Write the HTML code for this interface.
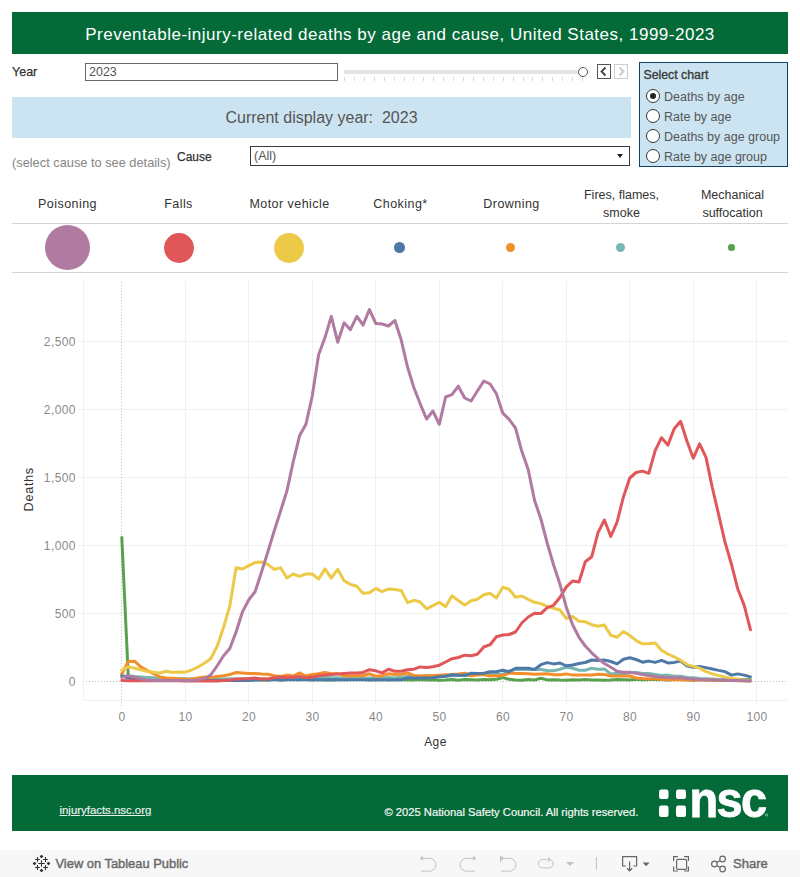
<!DOCTYPE html>
<html><head><meta charset="utf-8">
<style>
*{box-sizing:border-box;margin:0;padding:0}
html,body{width:800px;height:877px;overflow:hidden;background:#fff;font-family:"Liberation Sans",sans-serif;color:#333}
.a{position:absolute}
.chart{position:absolute;left:0;top:0}
.title{left:12px;top:12px;width:776px;height:42px;background:#046a38;color:#fff;font-size:17px;letter-spacing:0.5px;line-height:45px;text-align:center;white-space:nowrap}
.lbl{font-size:12px;color:#333;white-space:nowrap}
.inp{border:1px solid #666;background:#fff;font-size:12.5px;color:#555;padding-left:3px;white-space:nowrap}
.banner{left:12px;top:97px;width:619px;height:40.5px;background:#cce4f1;color:#555;font-size:16px;line-height:41px;text-align:center;white-space:nowrap}
.sel{left:639px;top:62px;width:149px;height:104.5px;background:#cce4f1;border:1.3px solid #0f4369}
.radio{width:14px;height:14px;border:1.2px solid #333;border-radius:50%;background:#fff}
.rl{font-size:12.5px;color:#555;white-space:nowrap}
.lg{font-size:12.5px;color:#333;text-align:center;white-space:nowrap;line-height:18px}
.dot{border-radius:50%}
.hr{left:12px;width:776px;height:1.5px;background:#d4d4d4}
.footer{left:12px;top:775px;width:776px;height:56px;background:#046a38}
.tb{left:0;top:850px;width:800px;height:27px;background:#f7f7f7}
</style></head><body>
<div class="a title">Preventable-injury-related deaths by age and cause, United States, 1999-2023</div>

<div class="a lbl" style="left:12px;top:65px;font-size:12.5px;-webkit-text-stroke:0.25px #333">Year</div>
<div class="a inp" style="left:85px;top:63px;width:253px;height:18px;line-height:16px">2023</div>
<div class="a" style="left:344px;top:70px;width:239px;height:4px;background:#e4e4e4"></div>
<div class="a" style="left:344.0px;top:77px;width:1px;height:4px;background:#d8d8d8"></div><div class="a" style="left:353.9px;top:77px;width:1px;height:4px;background:#d8d8d8"></div><div class="a" style="left:363.8px;top:77px;width:1px;height:4px;background:#d8d8d8"></div><div class="a" style="left:373.8px;top:77px;width:1px;height:4px;background:#d8d8d8"></div><div class="a" style="left:383.7px;top:77px;width:1px;height:4px;background:#d8d8d8"></div><div class="a" style="left:393.6px;top:77px;width:1px;height:4px;background:#d8d8d8"></div><div class="a" style="left:403.5px;top:77px;width:1px;height:4px;background:#d8d8d8"></div><div class="a" style="left:413.4px;top:77px;width:1px;height:4px;background:#d8d8d8"></div><div class="a" style="left:423.3px;top:77px;width:1px;height:4px;background:#d8d8d8"></div><div class="a" style="left:433.3px;top:77px;width:1px;height:4px;background:#d8d8d8"></div><div class="a" style="left:443.2px;top:77px;width:1px;height:4px;background:#d8d8d8"></div><div class="a" style="left:453.1px;top:77px;width:1px;height:4px;background:#d8d8d8"></div><div class="a" style="left:463.0px;top:77px;width:1px;height:4px;background:#d8d8d8"></div><div class="a" style="left:472.9px;top:77px;width:1px;height:4px;background:#d8d8d8"></div><div class="a" style="left:482.8px;top:77px;width:1px;height:4px;background:#d8d8d8"></div><div class="a" style="left:492.8px;top:77px;width:1px;height:4px;background:#d8d8d8"></div><div class="a" style="left:502.7px;top:77px;width:1px;height:4px;background:#d8d8d8"></div><div class="a" style="left:512.6px;top:77px;width:1px;height:4px;background:#d8d8d8"></div><div class="a" style="left:522.5px;top:77px;width:1px;height:4px;background:#d8d8d8"></div><div class="a" style="left:532.4px;top:77px;width:1px;height:4px;background:#d8d8d8"></div><div class="a" style="left:542.3px;top:77px;width:1px;height:4px;background:#d8d8d8"></div><div class="a" style="left:552.3px;top:77px;width:1px;height:4px;background:#d8d8d8"></div><div class="a" style="left:562.2px;top:77px;width:1px;height:4px;background:#d8d8d8"></div><div class="a" style="left:572.1px;top:77px;width:1px;height:4px;background:#d8d8d8"></div><div class="a" style="left:582.0px;top:77px;width:1px;height:4px;background:#d8d8d8"></div>
<div class="a" style="left:577.5px;top:66.5px;width:10px;height:10px;border:1.3px solid #555;border-radius:50%;background:#fff"></div>
<div class="a" style="left:597px;top:64px;width:14px;height:15px;border:1.2px solid #555;background:#fff"></div>
<svg class="a" style="left:597px;top:64px" width="14" height="15"><path d="M8.5,3.5 L4.5,7.5 L8.5,11.5" fill="none" stroke="#444" stroke-width="1.8"/></svg>
<div class="a" style="left:614px;top:64px;width:14px;height:15px;border:1.2px solid #ccc;background:#fff"></div>
<svg class="a" style="left:614px;top:64px" width="14" height="15"><path d="M5.5,3.5 L9.5,7.5 L5.5,11.5" fill="none" stroke="#c8c8c8" stroke-width="1.8"/></svg>

<div class="a banner">Current display year:&nbsp; 2023</div>

<div class="a" style="left:12px;top:154.5px;font-size:12.8px;color:#858585;white-space:nowrap">(select cause to see details)</div>
<div class="a lbl" style="left:177px;top:149.5px;-webkit-text-stroke:0.25px #333">Cause</div>
<div class="a inp" style="left:250px;top:146px;width:380px;height:19.5px;line-height:18px;border-color:#3a3a3a">(All)</div>
<svg class="a" style="left:615px;top:152px" width="10" height="8"><path d="M2,2 L8,2 L5,6 Z" fill="#222"/></svg>

<div class="a sel"></div>
<div class="a lbl" style="left:643.5px;top:68px;font-size:12.3px;-webkit-text-stroke:0.35px #3a3a3a;color:#3a3a3a">Select chart</div>
<div class="a radio" style="left:645.7px;top:89.0px"></div>
<div class="a" style="left:649.5px;top:92.8px;width:6.4px;height:6.4px;border-radius:50%;background:#222"></div>
<div class="a rl" style="left:664px;top:89.5px">Deaths by age</div>
<div class="a radio" style="left:645.7px;top:109.0px"></div>
<div class="a rl" style="left:664px;top:109.5px">Rate by age</div>
<div class="a radio" style="left:645.7px;top:129.0px"></div>
<div class="a rl" style="left:664px;top:129.5px">Deaths by age group</div>
<div class="a radio" style="left:645.7px;top:149.0px"></div>
<div class="a rl" style="left:664px;top:149.5px">Rate by age group</div>

<!-- legend -->
<div class="a lg" style="left:12px;top:195px;width:111px;letter-spacing:0.45px">Poisoning</div>
<div class="a lg" style="left:123px;top:195px;width:111px;letter-spacing:0.45px">Falls</div>
<div class="a lg" style="left:234px;top:195px;width:111px;letter-spacing:0.45px">Motor vehicle</div>
<div class="a lg" style="left:345px;top:195px;width:111px;letter-spacing:0.45px">Choking*</div>
<div class="a lg" style="left:456px;top:195px;width:111px;letter-spacing:0.45px">Drowning</div>
<div class="a lg" style="left:566px;top:186px;width:111px">Fires, flames,<br>smoke</div>
<div class="a lg" style="left:677px;top:186px;width:111px">Mechanical<br>suffocation</div>
<div class="a hr" style="top:222.5px"></div>
<div class="a hr" style="top:271.5px"></div>
<div class="a dot" style="left:45px;top:225px;width:45px;height:45px;background:#b07aa1"></div>
<div class="a dot" style="left:163.5px;top:232.5px;width:30px;height:30px;background:#e15759"></div>
<div class="a dot" style="left:273.5px;top:232.5px;width:30px;height:30px;background:#edc948"></div>
<div class="a dot" style="left:394px;top:242px;width:10.5px;height:10.5px;background:#4e79a7"></div>
<div class="a dot" style="left:506px;top:243px;width:9px;height:9px;background:#f28e2b"></div>
<div class="a dot" style="left:616px;top:243px;width:9px;height:9px;background:#76b7b2"></div>
<div class="a dot" style="left:728px;top:244.3px;width:6.5px;height:6.5px;background:#59a14f"></div>

<svg class="chart" width="800" height="877" viewBox="0 0 800 877">
<g>
<line x1="83.5" y1="281" x2="83.5" y2="700.5" stroke="#f0f0f0"/>
<line x1="83" y1="700.5" x2="788" y2="700.5" stroke="#f0f0f0"/>
<line x1="185.5" y1="281" x2="185.5" y2="705" stroke="#f0f0f0" stroke-width="1"/><line x1="248.5" y1="281" x2="248.5" y2="705" stroke="#f0f0f0" stroke-width="1"/><line x1="312.5" y1="281" x2="312.5" y2="705" stroke="#f0f0f0" stroke-width="1"/><line x1="375.5" y1="281" x2="375.5" y2="705" stroke="#f0f0f0" stroke-width="1"/><line x1="439.5" y1="281" x2="439.5" y2="705" stroke="#f0f0f0" stroke-width="1"/><line x1="502.5" y1="281" x2="502.5" y2="705" stroke="#f0f0f0" stroke-width="1"/><line x1="566.5" y1="281" x2="566.5" y2="705" stroke="#f0f0f0" stroke-width="1"/><line x1="629.5" y1="281" x2="629.5" y2="705" stroke="#f0f0f0" stroke-width="1"/><line x1="693.5" y1="281" x2="693.5" y2="705" stroke="#f0f0f0" stroke-width="1"/><line x1="756.5" y1="281" x2="756.5" y2="705" stroke="#f0f0f0" stroke-width="1"/>
<line x1="78" y1="341.5" x2="788" y2="341.5" stroke="#f0f0f0" stroke-width="1"/><line x1="78" y1="409.5" x2="788" y2="409.5" stroke="#f0f0f0" stroke-width="1"/><line x1="78" y1="477.5" x2="788" y2="477.5" stroke="#f0f0f0" stroke-width="1"/><line x1="78" y1="545.5" x2="788" y2="545.5" stroke="#f0f0f0" stroke-width="1"/><line x1="78" y1="613.5" x2="788" y2="613.5" stroke="#f0f0f0" stroke-width="1"/>
</g>
<line x1="121.5" y1="282" x2="121.5" y2="706" stroke="#bdbdbd" stroke-dasharray="1,2"/>
<line x1="86" y1="681.5" x2="786" y2="681.5" stroke="#bdbdbd" stroke-dasharray="1,2"/>
<g font-family="Liberation Sans, sans-serif" font-size="12" fill="#8a8a8a" letter-spacing="0.4"><text x="75.9" y="346.0" text-anchor="end">2,500</text><text x="75.9" y="414.0" text-anchor="end">2,000</text><text x="75.9" y="482.0" text-anchor="end">1,500</text><text x="75.9" y="550.0" text-anchor="end">1,000</text><text x="75.9" y="618.0" text-anchor="end">500</text><text x="75.9" y="686" text-anchor="end">0</text><text x="122.0" y="721" text-anchor="middle">0</text><text x="185.5" y="721" text-anchor="middle">10</text><text x="249.0" y="721" text-anchor="middle">20</text><text x="312.5" y="721" text-anchor="middle">30</text><text x="376.0" y="721" text-anchor="middle">40</text><text x="439.5" y="721" text-anchor="middle">50</text><text x="503.0" y="721" text-anchor="middle">60</text><text x="566.5" y="721" text-anchor="middle">70</text><text x="630.0" y="721" text-anchor="middle">80</text><text x="693.5" y="721" text-anchor="middle">90</text><text x="757.0" y="721" text-anchor="middle">100</text></g>
<text x="435.5" y="745.8" text-anchor="middle" font-family="Liberation Sans, sans-serif" font-size="12" letter-spacing="0.4" fill="#333">Age</text>
<text transform="translate(33.2,489.3) rotate(-90)" text-anchor="middle" font-family="Liberation Sans, sans-serif" font-size="12.8" letter-spacing="0.6" fill="#333">Deaths</text>
<polyline points="121.8,537.6 128.2,674.8 134.5,680.0 140.8,679.6 147.2,679.5 153.6,680.0 159.9,679.4 166.2,679.8 172.6,679.7 178.9,679.4 185.3,679.8 191.6,679.3 198.0,679.7 204.3,679.4 210.7,679.4 217.1,679.7 223.4,680.1 229.8,679.4 236.1,679.5 242.4,679.9 248.8,680.2 255.1,679.9 261.5,679.7 267.8,680.3 274.2,679.3 280.6,680.2 286.9,679.6 293.2,679.4 299.6,679.4 305.9,679.6 312.3,680.1 318.6,679.5 325.0,679.9 331.3,679.9 337.7,679.7 344.1,679.8 350.4,679.4 356.8,679.4 363.1,679.5 369.4,680.0 375.8,679.7 382.1,679.6 388.5,679.9 394.9,679.8 401.2,679.6 407.6,680.1 413.9,680.0 420.2,679.5 426.6,679.9 432.9,679.8 439.3,680.2 445.6,680.0 452.0,679.6 458.3,680.3 464.7,679.4 471.1,679.7 477.4,680.1 483.8,679.5 490.1,679.8 496.4,679.3 502.8,677.6 509.1,679.3 515.5,679.9 521.8,680.2 528.2,679.6 534.5,680.0 540.9,678.2 547.2,679.9 553.6,679.8 559.9,680.1 566.3,680.2 572.6,679.8 579.0,680.0 585.3,679.4 591.7,680.0 598.0,679.9 604.4,680.3 610.8,680.1 617.1,679.6 623.4,679.7 629.8,680.0 636.1,679.3 642.5,679.8 648.8,679.5 655.2,679.4 661.5,679.4 667.9,680.1 674.2,679.4 680.6,679.5 686.9,679.7 693.3,680.2 699.6,679.4 706.0,679.7 712.3,679.8 718.7,680.2 725.0,680.1 731.4,680.2 737.7,679.6 744.1,679.7 750.4,679.7" fill="none" stroke="#59a14f" stroke-width="3" stroke-linejoin="round" stroke-linecap="round"/>
<polyline points="121.8,676.0 128.2,675.9 134.5,676.6 140.8,677.0 147.2,677.4 153.6,677.8 159.9,678.5 166.2,678.8 172.6,679.3 178.9,678.8 185.3,678.8 191.6,678.9 198.0,678.9 204.3,679.0 210.7,678.8 217.1,678.7 223.4,678.9 229.8,678.8 236.1,679.1 242.4,678.7 248.8,679.6 255.1,679.3 261.5,678.8 267.8,679.0 274.2,679.0 280.6,679.1 286.9,678.8 293.2,679.5 299.6,679.7 305.9,679.2 312.3,678.0 318.6,677.6 325.0,677.6 331.3,677.8 337.7,677.8 344.1,678.3 350.4,677.7 356.8,677.5 363.1,678.5 369.4,678.0 375.8,677.6 382.1,678.0 388.5,677.5 394.9,678.0 401.2,677.1 407.6,676.6 413.9,676.3 420.2,676.2 426.6,676.0 432.9,675.9 439.3,676.0 445.6,676.0 452.0,675.8 458.3,675.4 464.7,675.4 471.1,675.3 477.4,674.0 483.8,674.3 490.1,674.4 496.4,674.4 502.8,674.4 509.1,671.0 515.5,669.5 521.8,669.5 528.2,669.5 534.5,669.5 540.9,669.5 547.2,670.5 553.6,670.8 559.9,669.3 566.3,667.3 572.6,668.3 579.0,670.3 585.3,670.3 591.7,668.3 598.0,669.3 604.4,668.9 610.8,674.0 617.1,673.2 623.4,674.0 629.8,672.5 636.1,672.5 642.5,673.5 648.8,673.5 655.2,674.5 661.5,675.5 667.9,675.1 674.2,676.3 680.6,676.3 686.9,677.4 693.3,677.8 699.6,678.5 706.0,678.8 712.3,679.1 718.7,679.4 725.0,679.7 731.4,680.0 737.7,680.3 744.1,680.6 750.4,680.9" fill="none" stroke="#76b7b2" stroke-width="3" stroke-linejoin="round" stroke-linecap="round"/>
<polyline points="121.8,674.0 128.2,661.6 134.5,661.2 140.8,666.9 147.2,670.6 153.6,673.6 159.9,677.0 166.2,677.9 172.6,678.2 178.9,678.8 185.3,679.3 191.6,679.2 198.0,678.1 204.3,676.9 210.7,677.5 217.1,676.4 223.4,675.7 229.8,674.6 236.1,672.5 242.4,672.9 248.8,673.4 255.1,673.4 261.5,673.9 267.8,674.2 274.2,675.7 280.6,676.4 286.9,675.1 293.2,676.0 299.6,672.9 305.9,676.0 312.3,674.4 318.6,673.8 325.0,672.4 331.3,673.8 337.7,673.6 344.1,675.7 350.4,675.7 356.8,675.7 363.1,675.7 369.4,673.8 375.8,676.2 382.1,675.7 388.5,673.8 394.9,674.5 401.2,674.2 407.6,673.0 413.9,675.5 420.2,676.0 426.6,675.8 432.9,675.5 439.3,675.2 445.6,674.8 452.0,674.5 458.3,674.0 464.7,673.2 471.1,675.8 477.4,675.0 483.8,674.5 490.1,676.0 496.4,675.8 502.8,675.6 509.1,673.0 515.5,673.6 521.8,673.5 528.2,673.8 534.5,674.3 540.9,674.0 547.2,673.7 553.6,674.7 559.9,674.7 566.3,673.9 572.6,675.1 579.0,674.9 585.3,675.0 591.7,674.9 598.0,674.3 604.4,674.4 610.8,676.0 617.1,676.0 623.4,676.0 629.8,676.0 636.1,678.0 642.5,678.6 648.8,679.0 655.2,678.6 661.5,679.5 667.9,679.6 674.2,679.7 680.6,679.8 686.9,679.9 693.3,680.0 699.6,680.1 706.0,680.2 712.3,680.3 718.7,680.4 725.0,680.5 731.4,680.6 737.7,680.7 744.1,680.8 750.4,680.9" fill="none" stroke="#f28e2b" stroke-width="3" stroke-linejoin="round" stroke-linecap="round"/>
<polyline points="121.8,675.9 128.2,678.1 134.5,679.0 140.8,680.5 147.2,680.5 153.6,680.5 159.9,680.5 166.2,680.5 172.6,680.5 178.9,680.5 185.3,680.5 191.6,680.5 198.0,680.5 204.3,680.5 210.7,680.5 217.1,680.5 223.4,680.5 229.8,680.5 236.1,680.5 242.4,680.5 248.8,680.5 255.1,679.8 261.5,679.8 267.8,679.8 274.2,679.8 280.6,679.8 286.9,679.8 293.2,679.8 299.6,679.8 305.9,679.8 312.3,679.8 318.6,679.8 325.0,679.8 331.3,679.8 337.7,679.8 344.1,679.8 350.4,679.8 356.8,679.8 363.1,679.8 369.4,679.8 375.8,679.8 382.1,679.8 388.5,679.8 394.9,679.8 401.2,679.8 407.6,678.0 413.9,678.0 420.2,678.0 426.6,677.9 432.9,677.8 439.3,676.7 445.6,676.2 452.0,674.8 458.3,675.2 464.7,675.2 471.1,673.2 477.4,673.5 483.8,673.2 490.1,671.8 496.4,671.8 502.8,670.2 509.1,671.8 515.5,668.3 521.8,668.3 528.2,668.3 534.5,669.5 540.9,664.7 547.2,662.6 553.6,663.9 559.9,663.0 566.3,665.8 572.6,665.0 579.0,663.5 585.3,662.5 591.7,660.0 598.0,660.6 604.4,660.0 610.8,661.5 617.1,663.9 623.4,659.3 629.8,657.8 636.1,659.5 642.5,662.2 648.8,661.1 655.2,662.4 661.5,660.4 667.9,662.9 674.2,662.4 680.6,661.1 686.9,665.9 693.3,667.2 699.6,666.4 706.0,667.6 712.3,669.0 718.7,670.4 725.0,671.6 731.4,675.1 737.7,673.9 744.1,675.1 750.4,676.9" fill="none" stroke="#4e79a7" stroke-width="3" stroke-linejoin="round" stroke-linecap="round"/>
<polyline points="121.8,670.2 128.2,666.9 134.5,668.0 140.8,669.9 147.2,671.5 153.6,672.3 159.9,673.0 166.2,671.2 172.6,672.5 178.9,672.0 185.3,672.2 191.6,670.0 198.0,667.0 204.3,663.3 210.7,658.8 217.1,646.4 223.4,627.8 229.8,606.0 236.1,567.8 242.4,569.0 248.8,565.6 255.1,562.6 261.5,562.0 267.8,564.4 274.2,569.4 280.6,567.8 286.9,578.0 293.2,574.0 299.6,576.3 305.9,574.0 312.3,574.0 318.6,579.1 325.0,568.9 331.3,578.2 337.7,569.3 344.1,580.8 350.4,584.4 356.8,586.3 363.1,593.3 369.4,592.8 375.8,588.4 382.1,591.7 388.5,588.9 394.9,589.6 401.2,590.5 407.6,602.6 413.9,600.3 420.2,601.9 426.6,608.8 432.9,605.6 439.3,602.2 445.6,606.8 452.0,595.7 458.3,600.5 464.7,605.0 471.1,600.8 477.4,599.3 483.8,594.8 490.1,593.3 496.4,598.0 502.8,587.3 509.1,589.2 515.5,597.2 521.8,596.0 528.2,599.3 534.5,602.3 540.9,603.6 547.2,606.4 553.6,608.2 559.9,610.0 566.3,618.5 572.6,616.5 579.0,621.2 585.3,621.8 591.7,624.7 598.0,626.2 604.4,625.0 610.8,635.4 617.1,637.3 623.4,631.5 629.8,635.5 636.1,640.6 642.5,643.8 648.8,643.8 655.2,643.0 661.5,650.3 667.9,654.1 674.2,656.8 680.6,660.2 686.9,664.6 693.3,666.4 699.6,668.1 706.0,671.6 712.3,673.9 718.7,675.6 725.0,676.9 731.4,678.6 737.7,679.1 744.1,680.4 750.4,680.9" fill="none" stroke="#edc948" stroke-width="3" stroke-linejoin="round" stroke-linecap="round"/>
<polyline points="121.8,680.5 128.2,680.8 134.5,680.8 140.8,680.8 147.2,680.8 153.6,680.8 159.9,680.8 166.2,680.8 172.6,680.8 178.9,680.8 185.3,680.9 191.6,680.9 198.0,680.9 204.3,680.9 210.7,680.9 217.1,680.9 223.4,680.4 229.8,679.9 236.1,679.1 242.4,679.1 248.8,678.6 255.1,678.1 261.5,679.1 267.8,679.0 274.2,677.8 280.6,676.9 286.9,677.4 293.2,677.0 299.6,676.4 305.9,677.8 312.3,677.1 318.6,675.7 325.0,675.0 331.3,674.6 337.7,674.1 344.1,673.4 350.4,673.1 356.8,672.9 363.1,672.4 369.4,669.7 375.8,670.8 382.1,672.9 388.5,669.2 394.9,671.3 401.2,671.3 407.6,669.7 413.9,669.2 420.2,666.9 426.6,667.6 432.9,666.8 439.3,665.2 445.6,662.0 452.0,658.7 458.3,657.5 464.7,655.2 471.1,655.7 477.4,654.2 483.8,647.0 490.1,644.7 496.4,636.8 502.8,635.0 509.1,634.5 515.5,632.0 521.8,623.0 528.2,617.0 534.5,613.2 540.9,613.6 547.2,607.7 553.6,605.3 559.9,597.5 566.3,586.9 572.6,581.0 579.0,582.0 585.3,561.7 591.7,556.8 598.0,532.6 604.4,520.0 610.8,536.5 617.1,522.0 623.4,497.0 629.8,478.0 636.1,472.5 642.5,471.1 648.8,473.3 655.2,450.6 661.5,437.7 667.9,445.1 674.2,428.7 680.6,421.3 686.9,441.0 693.3,458.2 699.6,443.8 706.0,457.4 712.3,487.5 718.7,514.8 725.0,542.2 731.4,564.0 737.7,588.7 744.1,605.0 750.4,629.7" fill="none" stroke="#e15759" stroke-width="3" stroke-linejoin="round" stroke-linecap="round"/>
<polyline points="121.8,677.4 128.2,675.9 134.5,677.0 140.8,678.9 147.2,680.0 153.6,680.4 159.9,680.4 166.2,680.4 172.6,680.4 178.9,680.4 185.3,680.4 191.6,680.4 198.0,679.9 204.3,678.6 210.7,675.0 217.1,666.0 223.4,656.0 229.8,648.5 236.1,632.0 242.4,612.0 248.8,599.8 255.1,591.8 261.5,572.0 267.8,552.0 274.2,531.0 280.6,511.0 286.9,491.0 293.2,462.0 299.6,435.7 305.9,424.3 312.3,395.8 318.6,354.8 325.0,337.6 331.3,316.4 337.7,342.2 344.1,322.8 350.4,329.7 356.8,316.4 363.1,325.0 369.4,309.6 375.8,323.5 382.1,324.0 388.5,326.0 394.9,320.5 401.2,340.0 407.6,367.3 413.9,387.8 420.2,403.8 426.6,419.0 432.9,411.0 439.3,424.3 445.6,397.0 452.0,394.7 458.3,386.2 464.7,398.0 471.1,401.0 477.4,391.0 483.8,381.0 490.1,384.0 496.4,393.8 502.8,413.2 509.1,419.3 515.5,428.0 521.8,451.3 528.2,469.5 534.5,500.3 540.9,519.0 547.2,543.0 553.6,565.0 559.9,584.0 566.3,607.2 572.6,624.7 579.0,637.3 585.3,646.0 591.7,652.8 598.0,658.6 604.4,663.5 610.8,667.3 617.1,671.2 623.4,672.2 629.8,672.2 636.1,673.4 642.5,674.5 648.8,675.6 655.2,676.5 661.5,677.0 667.9,677.4 674.2,677.8 680.6,677.8 686.9,678.6 693.3,679.1 699.6,679.5 706.0,679.7 712.3,679.9 718.7,680.1 725.0,680.3 731.4,680.5 737.7,680.6 744.1,680.8 750.4,680.9" fill="none" stroke="#b07aa1" stroke-width="3" stroke-linejoin="round" stroke-linecap="round"/>
</svg>

<div class="a footer"></div>
<div class="a" style="left:59.5px;top:804.3px;font-size:11.4px;color:#e6efe9;-webkit-text-stroke:0.2px #e6efe9;text-decoration:underline;white-space:nowrap">injuryfacts.nsc.org</div>
<div class="a" style="left:384.5px;top:805.7px;font-size:11.2px;color:#f4f8f4;-webkit-text-stroke:0.2px #f4f8f4;white-space:nowrap">© 2025 National Safety Council. All rights reserved.</div>
<svg class="a" style="left:650px;top:780px" width="130" height="45" viewBox="650 780 130 45">
<g fill="#fff">
<rect x="659" y="789.5" width="9.5" height="9.5" rx="2.2"/>
<rect x="676" y="789.5" width="10" height="9.5" rx="2.2"/>
<rect x="659" y="805.5" width="9.5" height="11.5" rx="2.2"/>
<rect x="676" y="805.5" width="10" height="11.5" rx="2.2"/>
</g>
<text transform="translate(689.5,817) scale(0.92,0.97)" font-family="Liberation Sans, sans-serif" font-weight="bold" font-size="51" fill="#fff" stroke="#fff" stroke-width="0.9" letter-spacing="-1.8">nsc</text>
<circle cx="766.5" cy="815" r="1.1" fill="none" stroke="#fff" stroke-width="0.5"/>
</svg>

<div class="a tb"></div>
<svg class="a" style="left:0;top:850px" width="800" height="27" viewBox="0 850 800 27">
<g fill="none" stroke="#333" stroke-width="1.1">
<path d="M38.2,863.5 h6.6 M41.5,860.2 v6.6"/>
<path d="M35.1,859.5 h4.8 M37.5,857.1 v4.8 M43.1,859.5 h4.8 M45.5,857.1 v4.8 M35.1,867.5 h4.8 M37.5,865.1 v4.8 M43.1,867.5 h4.8 M45.5,865.1 v4.8"/>
<path d="M39.9,856.5 h3.2 M41.5,854.9 v3.2 M39.9,870.5 h3.2 M41.5,868.9 v3.2 M32.9,863.5 h3.2 M34.5,861.9 v3.2 M46.9,863.5 h3.2 M48.5,861.9 v3.2" stroke-width="1.4"/>
</g>
<text x="55.5" y="867.5" font-family="Liberation Sans, sans-serif" font-size="12.9" fill="#6a6a6a" stroke="#6a6a6a" stroke-width="0.45">View on Tableau Public</text>
<g fill="none" stroke="#c2c2c2" stroke-width="1">
<path d="M422.5,858.3 h7 a6.45,6.45 0 0 1 0,12.9 h-8.5"/>
<path d="M473.5,858.3 h-7 a6.45,6.45 0 0 0 0,12.9 h8.5"/>
<path d="M502.5,858.3 h7 a6.45,6.45 0 0 1 0,12.9 h-8.5 M500.5,856 v6"/>
<path d="M549,859.5 a4.2,4.2 0 0 1 0,8.4 h-6.5 a4.2,4.2 0 0 1 0,-8.4 h4.5"/>
<path d="M596.5,857 v13"/>
</g>
<g fill="#c2c2c2">
<path d="M419.8,858.3 l3,-2.6 v5.2 z"/>
<path d="M476.2,858.3 l-3,-2.6 v5.2 z"/>
<path d="M499.8,858.3 l3,-2.6 v5.2 z"/>
<path d="M551,859.5 l-3,-2.6 v5.2 z"/>
<path d="M566,862 h8 l-4,4 z"/>
</g>
<g fill="none" stroke="#666" stroke-width="1.2">
<path d="M626,866 h-3.4 v-9.4 h14 v9.4 h-3.4 M629.6,861.5 v9 M627,868.3 L629.6,870.8 L632.2,868.3"/>
<path d="M673.6,861 v-4.4 h4.4 M684,856.6 h4.4 v4.4 M688.4,866.6 v4.4 h-4.4 M678,871 h-4.4 v-4.4"/>
<rect x="676.6" y="859.4" width="10" height="10" rx="1.5"/>
<circle cx="714.4" cy="864" r="2.8"/><circle cx="722.6" cy="859" r="2.8"/><circle cx="722.6" cy="869" r="2.8"/>
<path d="M716.9,862.6 L720.1,860.5 M716.9,865.4 L720.1,867.5"/>
</g>
<path d="M642.6,862.4 h7 l-3.5,3.8 z" fill="#666"/>
<text x="733" y="867.5" font-family="Liberation Sans, sans-serif" font-size="13" fill="#6a6a6a" stroke="#6a6a6a" stroke-width="0.45">Share</text>
</svg>
</body></html>
